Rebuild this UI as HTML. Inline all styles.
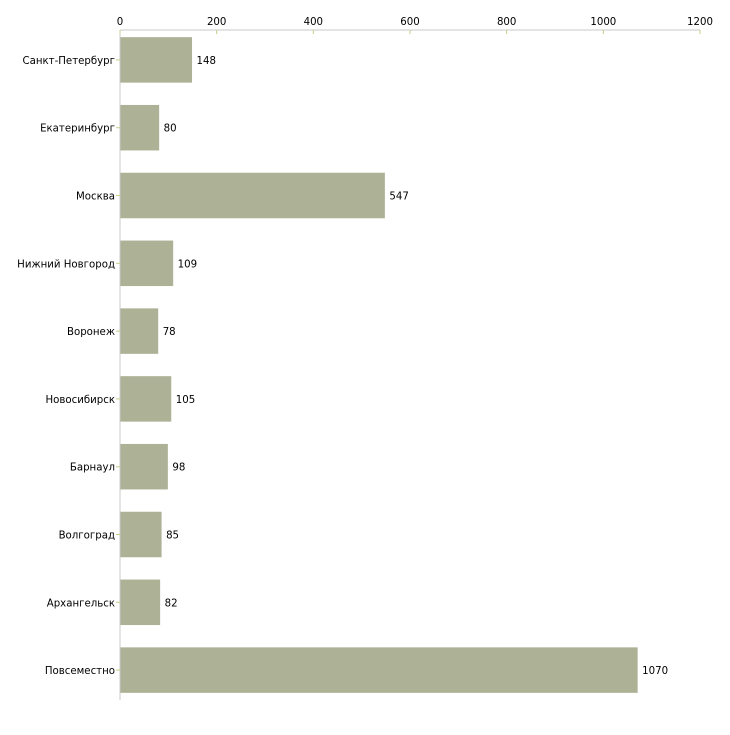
<!DOCTYPE html>
<html><head><meta charset="utf-8"><style>
body{margin:0;background:#fff}
text{font-family:"DejaVu Sans","Liberation Sans",sans-serif;font-size:10.2px;fill:#000}
</style></head><body>
<svg id="chart" width="730" height="730" xmlns="http://www.w3.org/2000/svg"></svg>
<script>
const categories=["Санкт-Петербург","Екатеринбург","Москва","Нижний Новгород","Воронеж","Новосибирск","Барнаул","Волгоград","Архангельск","Повсеместно"];
const values=[148,80,547,109,78,105,98,85,82,1070];
const ticks=[0,200,400,600,800,1000,1200];
const svg=document.getElementById('chart');
const NS='http://www.w3.org/2000/svg';
const x0=120,x1=700,plotTop=26,plotBottom=704,axisY=30;
const xs=v=>x0+(v-0)/(1200)*(x1-x0);
const band=(plotBottom-plotTop)/categories.length;
function mk(t,a,p){const e=document.createElementNS(NS,t);for(const k in a)e.setAttribute(k,a[k]);(p||svg).appendChild(e);return e;}
const ax=mk('line',{x1:x0,y1:axisY,x2:x1,y2:axisY,stroke:'#c8c8c8'});


const ay=mk('line',{x1:x0,y1:axisY,x2:x0,y2:plotBottom-4,stroke:'#c8c8c8'});


ticks.forEach(t=>{
 const x=xs(t);
 const tk=mk('line',{x1:x,y1:axisY,x2:x,y2:axisY+4,stroke:'#c8cc88'});
 
 
 const lb=mk('text',{x:x,y:25,'text-anchor':'middle'});lb.textContent=t;
 
 
});
categories.forEach((c,i)=>{
 const cy=plotTop+band*(i+0.5);const h=45.5;
 const r=mk('rect',{x:x0+0.5,y:cy-h/2,width:xs(values[i])-x0,height:h,fill:'#adb296'});
 
 
 const tk=mk('line',{x1:x0-4,y1:cy,x2:x0,y2:cy,stroke:'#c8cc88'});
 
 
 const lb=mk('text',{x:x0-5,y:cy+4,'text-anchor':'end'});lb.textContent=c;
 
 
 const vl=mk('text',{x:xs(values[i])+5,y:cy+4});vl.textContent=values[i];
 
 
});
</script>
</body></html>
